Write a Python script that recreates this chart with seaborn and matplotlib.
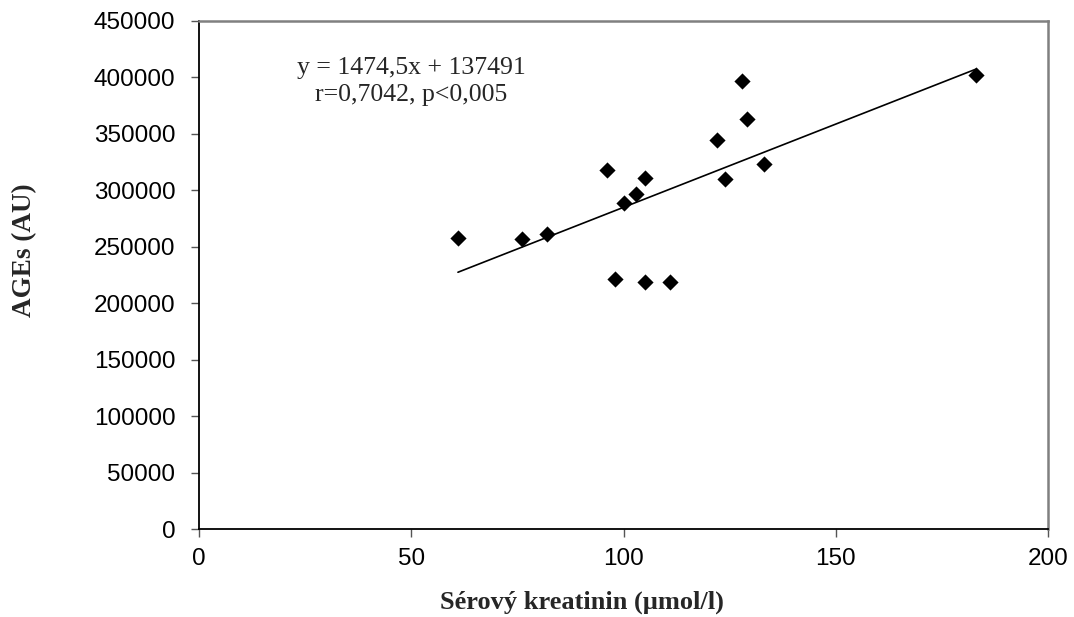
import numpy as np
import pandas as pd
import seaborn as sns
import matplotlib
matplotlib.use("Agg")
import matplotlib.pyplot as plt

# data
kreatinin = [61, 76, 82, 96, 98, 100, 103, 105, 105, 111, 122, 124, 128, 129, 133, 183]
ages = [258000, 256500, 261000, 318000, 221500, 289000, 296500, 311000, 218500, 219000,
        344500, 310000, 397000, 363500, 323500, 402000]

slope = 1474.5
intercept = 137491
eq_text = "y = 1474,5x + 137491\nr=0,7042, p<0,005"

x_ticks = [0, 50, 100, 150, 200]
y_ticks = list(range(0, 450001, 50000))

df = pd.DataFrame({"kreatinin": kreatinin, "ages": ages})

sns.set_theme(style="white")
plt.rcParams['font.family'] = ['Liberation Sans', 'DejaVu Sans']

fig = plt.figure(figsize=(10.74, 6.17), dpi=100)
ax = fig.add_axes([0.1853, 0.1426, 0.7905, 0.8234])

sns.scatterplot(data=df, x="kreatinin", y="ages", marker="D", s=68, color="black",
                linewidth=0, ax=ax, zorder=3)

# trend line from the equation, over the data range
xs = np.array([min(kreatinin), max(kreatinin)])
ax.plot(xs, slope * xs + intercept, color="black", lw=1.2, zorder=2)

ax.text(50, 396000, eq_text, ha="center", va="center", fontsize=18.5,
        family=["Liberation Serif"], linespacing=1.3)

ax.set_xlim(0, 200)
ax.set_ylim(0, 450000)
ax.set_xticks(x_ticks)
ax.set_yticks(y_ticks)
ax.set_xticklabels([str(t) for t in x_ticks])
ax.set_yticklabels([str(t) for t in y_ticks])
ax.tick_params(axis="both", direction="out", length=6, width=1, color="#555555",
               labelsize=17.5, labelcolor="black", bottom=True, left=True)
ax.tick_params(axis="x", pad=8)
ax.tick_params(axis="y", pad=11)

ax.set_xlabel("Sérový kreatinin (µmol/l)", fontsize=19, fontweight="bold",
              family=["Liberation Serif"])
ax.set_ylabel("AGEs (AU)", fontsize=19.5, fontweight="bold",
              family=["Liberation Serif"])
ax.xaxis.set_label_coords(0.451, -0.122)
ax.yaxis.set_label_coords(-0.191, 0.549)

for side in ["left", "bottom"]:
    ax.spines[side].set_color("black")
    ax.spines[side].set_linewidth(1.3)
for side in ["top", "right"]:
    ax.spines[side].set_color("#808080")
    ax.spines[side].set_linewidth(1.8)

ax.grid(False)
fig.savefig("out.png", dpi=100, facecolor="white")
